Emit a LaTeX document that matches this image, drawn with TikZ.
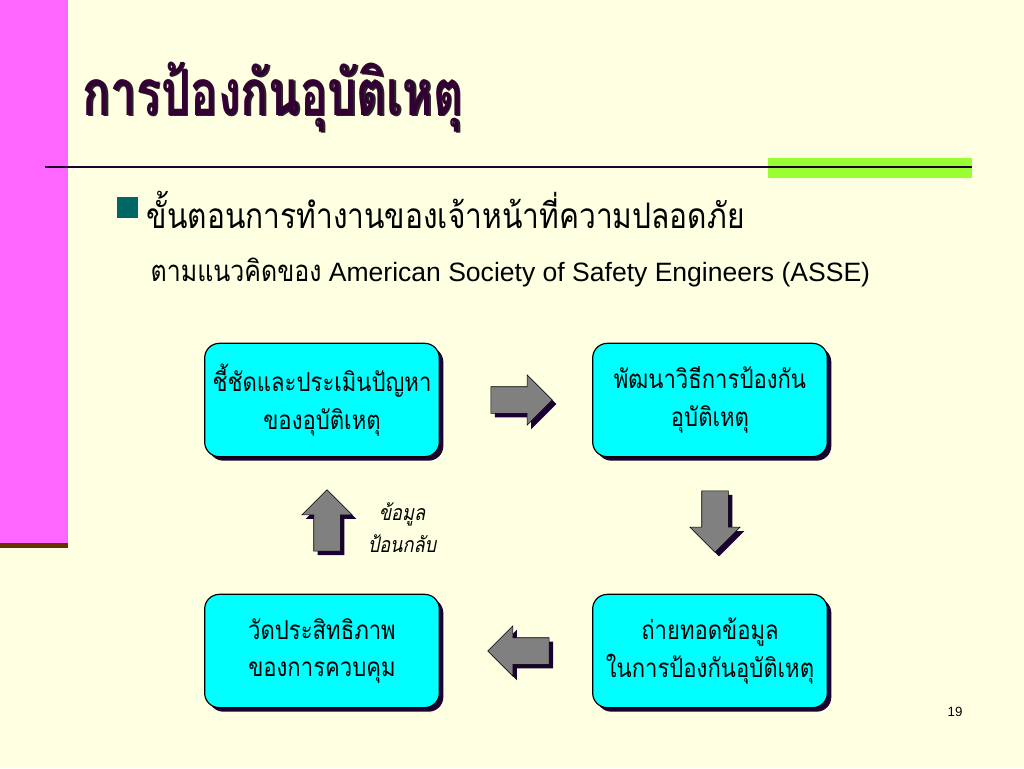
\documentclass[tikz,border=0pt]{standalone}
\usepackage{fontspec}
\usetikzlibrary{shapes.arrows,shadows}
\setmainfont{Liberation Sans}
\newfontfamily\thaifont[Script=Thai,FakeStretch=0.85]{Loma}
\newfontfamily\thaititle[Script=Thai,FakeStretch=0.72]{Loma}
\newfontfamily\thaislant[Script=Thai,FakeStretch=0.85,FakeSlant=0.2]{Loma}
\definecolor{slidebg}{RGB}{255,255,225}
\definecolor{stripcolor}{RGB}{255,102,255}
\definecolor{stripedge}{RGB}{102,51,0}
\definecolor{barcolor}{RGB}{153,255,51}
\definecolor{titlecolor}{RGB}{51,0,51}
\definecolor{rulecolor}{RGB}{26,0,51}
\definecolor{bulletcolor}{RGB}{0,102,102}
\definecolor{boxcolor}{RGB}{0,255,255}
\definecolor{shadecolor}{RGB}{26,0,51}
\definecolor{arrowcolor}{RGB}{128,128,128}

\tikzset{
  stepbox/.style={draw=black, line width=0.9pt, fill=boxcolor, rounded corners=11pt,
    minimum width=176pt, minimum height=85pt, align=center, font=\thaifont\fontsize{19.5}{28}\selectfont,
    drop shadow={shadow xshift=3pt, shadow yshift=-3pt, fill=shadecolor, opacity=1}},
  blockarrow/.style={single arrow, draw=black, line width=0.4pt, fill=arrowcolor,
    minimum height=46pt, inner sep=9.75pt, single arrow head extend=9pt,
    drop shadow={shadow xshift=3pt, shadow yshift=-3pt, fill=shadecolor, opacity=1}}
}

\begin{document}
\begin{tikzpicture}[x=0.75pt, y=-0.75pt]
  \useasboundingbox (0,0) rectangle (1024,768);
  % background and side strip
  \fill[slidebg] (0,0) rectangle (1024,768);
  \fill[stripcolor] (0,0) rectangle (68,545);
  \fill[stripedge] (0,543) rectangle (68,548);
  \fill[barcolor] (768,158) rectangle (972,178);
  \draw[rulecolor, line width=1.5pt] (45,167) -- (972,167);

  % title
  \node[anchor=west, text=black!85, font=\thaititle\bfseries\fontsize{48}{56}\selectfont] (titleshade) at (79.5,98.5) {การป้องกันอุบัติเหตุ};
  \node[anchor=west, text=titlecolor, font=\thaititle\bfseries\fontsize{48}{56}\selectfont] (title) at (78,97) {การป้องกันอุบัติเหตุ};

  % bullet text
  \fill[bulletcolor] (117,197) rectangle (138,218);
  \node[anchor=west, font=\thaifont\fontsize{26.4}{32}\selectfont] (duty) at (142,210) {ขั้นตอนการทำงานของเจ้าหน้าที่ความปลอดภัย};
  \node[anchor=west, font=\fontsize{19.9}{24}\selectfont] (asse) at (146,272) {{\thaifont\fontsize{22}{24}\selectfont ตามแนวคิดของ} American Society of Safety Engineers (ASSE)};

  % the four steps
  \node[stepbox] (identify) at (322,400) {ชี้ชัดและประเมินปัญหา\\ของอุบัติเหตุ};
  \node[stepbox] (develop) at (710,400) {พัฒนาวิธีการป้องกัน\\อุบัติเหตุ};
  \node[stepbox] (transfer) at (710,651) {ถ่ายทอดข้อมูล\\ในการป้องกันอุบัติเหตุ};
  \node[stepbox] (measure) at (322,651) {วัดประสิทธิภาพ\\ของการควบคุม};

  % block arrows between the steps
  \node[blockarrow] (toright) at (515,400) {};
  \node[blockarrow, shape border rotate=270] (todown) at (715,515) {};
  \node[blockarrow, shape border rotate=180] (toleft) at (525,651) {};
  \node[blockarrow, shape border rotate=90] (toup) at (327,527) {};
  \node[align=center, font=\thaislant\fontsize{16}{24}\selectfont] (feedback) at (402,528) {ข้อมูล\\ป้อนกลับ};

  \node[font=\fontsize{10}{12}\selectfont] (pagenum) at (955,712) {19};
\end{tikzpicture}
\end{document}
